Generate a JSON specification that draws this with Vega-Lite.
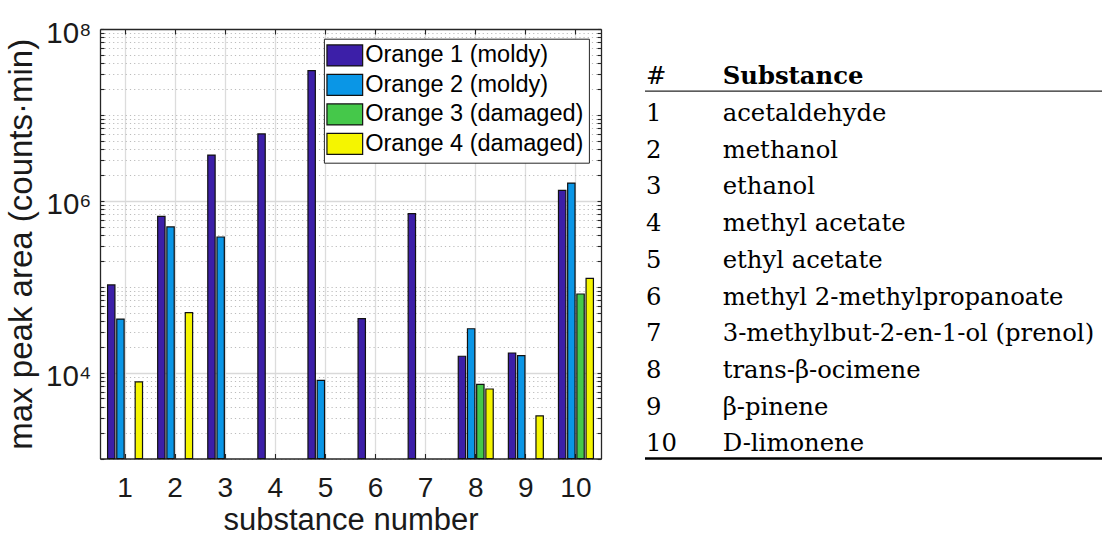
{
  "$schema": "https://vega.github.io/schema/vega-lite/v6.json",
  "background": "white",
  "padding": {"left": 5, "top": 18, "right": 0, "bottom": 0},
  "config": {
    "view": {"stroke": null},
    "font": "Liberation Sans",
    "axis": {
      "labelFont": "Liberation Sans",
      "titleFont": "Liberation Sans",
      "titleFontWeight": "normal",
      "labelColor": "#1a1a1a",
      "titleColor": "#1a1a1a",
      "domainColor": "#262626",
      "domainWidth": 1.3,
      "tickColor": "#262626",
      "tickWidth": 1.1
    }
  },
  "hconcat": [
    {
      "width": 501,
      "height": 429.5,
      "data": {
        "values": [
          {"substance": 1, "orange": "Orange 1 (moldy)", "area": 105000},
          {"substance": 1, "orange": "Orange 2 (moldy)", "area": 42000},
          {"substance": 1, "orange": "Orange 4 (damaged)", "area": 7800},
          {"substance": 2, "orange": "Orange 1 (moldy)", "area": 660000},
          {"substance": 2, "orange": "Orange 2 (moldy)", "area": 496000},
          {"substance": 2, "orange": "Orange 4 (damaged)", "area": 49800},
          {"substance": 3, "orange": "Orange 1 (moldy)", "area": 3410000},
          {"substance": 3, "orange": "Orange 2 (moldy)", "area": 379000},
          {"substance": 4, "orange": "Orange 1 (moldy)", "area": 6000000},
          {"substance": 5, "orange": "Orange 1 (moldy)", "area": 32700000},
          {"substance": 5, "orange": "Orange 2 (moldy)", "area": 8100},
          {"substance": 6, "orange": "Orange 1 (moldy)", "area": 42400},
          {"substance": 7, "orange": "Orange 1 (moldy)", "area": 708000},
          {"substance": 8, "orange": "Orange 1 (moldy)", "area": 15500},
          {"substance": 8, "orange": "Orange 2 (moldy)", "area": 32400},
          {"substance": 8, "orange": "Orange 3 (damaged)", "area": 7290},
          {"substance": 8, "orange": "Orange 4 (damaged)", "area": 6440},
          {"substance": 9, "orange": "Orange 1 (moldy)", "area": 16900},
          {"substance": 9, "orange": "Orange 2 (moldy)", "area": 15800},
          {"substance": 9, "orange": "Orange 4 (damaged)", "area": 3130},
          {"substance": 10, "orange": "Orange 1 (moldy)", "area": 1320000},
          {"substance": 10, "orange": "Orange 2 (moldy)", "area": 1610000},
          {"substance": 10, "orange": "Orange 3 (damaged)", "area": 82200},
          {"substance": 10, "orange": "Orange 4 (damaged)", "area": 125000}
        ]
      },
      "layer": [
        {
          "mark": {"type": "bar", "stroke": "#111111", "strokeWidth": 1.2},
          "encoding": {
            "x": {
              "field": "substance",
              "type": "ordinal",
              "scale": {"domain": [1, 2, 3, 4, 5, 6, 7, 8, 9, 10], "paddingInner": 0.2655, "paddingOuter": 0.13275},
              "axis": {
                "orient": "bottom",
                "title": "substance number",
                "titleFontSize": 31,
                "titlePadding": 3,
                "labelAngle": 0,
                "labelFontSize": 28,
                "labelPadding": 21,
                "tickSize": -5,
                "grid": true,
                "gridColor": "#dcdcdc",
                "gridWidth": 1.3
              }
            },
            "xOffset": {
              "field": "orange",
              "type": "nominal",
              "scale": {
                "domain": ["Orange 1 (moldy)", "Orange 2 (moldy)", "Orange 3 (damaged)", "Orange 4 (damaged)"],
                "paddingInner": 0.2,
                "paddingOuter": 0.1
              }
            },
            "y": {
              "field": "area",
              "type": "quantitative",
              "scale": {"type": "log", "domain": [1000, 100000000], "nice": false},
              "axis": {
                "orient": "left",
                "values": [1000, 2000, 3000, 4000, 5000, 6000, 7000, 8000, 9000,
                           10000, 20000, 30000, 40000, 50000, 60000, 70000, 80000, 90000,
                           100000, 200000, 300000, 400000, 500000, 600000, 700000, 800000, 900000,
                           1000000, 2000000, 3000000, 4000000, 5000000, 6000000, 7000000, 8000000, 9000000,
                           10000000, 20000000, 30000000, 40000000, 50000000, 60000000, 70000000, 80000000, 90000000,
                           100000000],
                "labelExpr": "datum.value == 10000 ? '10⁴' : datum.value == 1000000 ? '10⁶' : datum.value == 100000000 ? '10⁸' : ''",
                "labelOverlap": false,
                "labelFontSize": 29.5,
                "labelPadding": 13,
                "labelOffset": 4,
                "tickSize": -4,
                "grid": true,
                "gridColor": {"condition": {"test": "datum.value == 10000 || datum.value == 1000000", "value": "#d9d9d9"}, "value": "#bcbcbc"},
                "gridDash": {"condition": {"test": "datum.value == 10000 || datum.value == 1000000", "value": []}, "value": [1.2, 3]},
                "gridWidth": {"condition": {"test": "datum.value == 10000 || datum.value == 1000000", "value": 1.3}, "value": 1},
                "title": "max peak area (counts·min)",
                "titleFontSize": 33,
                "titlePadding": 7
              }
            },
            "y2": {"datum": 1000},
            "color": {
              "field": "orange",
              "type": "nominal",
              "scale": {
                "domain": ["Orange 1 (moldy)", "Orange 2 (moldy)", "Orange 3 (damaged)", "Orange 4 (damaged)"],
                "range": ["#3c1fa8", "#0a96e6", "#45c84a", "#f5f500"]
              },
              "legend": {
                "orient": "none",
                "legendX": 223.9,
                "legendY": 9.7,
                "title": null,
                "symbolType": "M-1.7,-1H1.7V1H-1.7Z",
                "symbolSize": 441,
                "symbolStrokeColor": "#111111",
                "symbolStrokeWidth": 1.2,
                "symbolOpacity": 1,
                "labelFont": "Liberation Sans",
                "labelFontSize": 23.5,
                "labelColor": "#000000",
                "labelLimit": 400,
                "strokeColor": "#262626",
                "fillColor": "white",
                "padding": 5,
                "symbolOffset": 4.15,
                "labelOffset": 8.65,
                "rowPadding": 2.5
              }
            }
          }
        },
        {
          "mark": {"type": "bar", "opacity": 0},
          "encoding": {
            "x": {
              "field": "substance",
              "type": "ordinal",
              "axis": {"orient": "top", "labels": false, "title": null, "tickSize": -5, "grid": false}
            },
            "xOffset": {"field": "orange", "type": "nominal"},
            "y": {
              "field": "area",
              "type": "quantitative",
              "axis": {
                "orient": "right",
                "values": [1000, 2000, 3000, 4000, 5000, 6000, 7000, 8000, 9000,
                           10000, 20000, 30000, 40000, 50000, 60000, 70000, 80000, 90000,
                           100000, 200000, 300000, 400000, 500000, 600000, 700000, 800000, 900000,
                           1000000, 2000000, 3000000, 4000000, 5000000, 6000000, 7000000, 8000000, 9000000,
                           10000000, 20000000, 30000000, 40000000, 50000000, 60000000, 70000000, 80000000, 90000000,
                           100000000],
                "labels": false,
                "title": null,
                "tickSize": -4,
                "grid": false
              }
            },
            "y2": {"datum": 1000}
          }
        }
      ],
      "resolve": {"axis": {"x": "independent", "y": "independent"}}
    },
    {
      "width": 457,
      "height": 429.5,
      "data": {
        "values": [
          {"row": "0", "id": "#", "substance": "Substance"},
          {"row": "1", "id": "1", "substance": "acetaldehyde"},
          {"row": "2", "id": "2", "substance": "methanol"},
          {"row": "3", "id": "3", "substance": "ethanol"},
          {"row": "4", "id": "4", "substance": "methyl acetate"},
          {"row": "5", "id": "5", "substance": "ethyl acetate"},
          {"row": "6", "id": "6", "substance": "methyl 2-methylpropanoate"},
          {"row": "7", "id": "7", "substance": "3-methylbut-2-en-1-ol (prenol)"},
          {"row": "8", "id": "8", "substance": "trans-β-ocimene"},
          {"row": "9", "id": "9", "substance": "β-pinene"},
          {"row": "10", "id": "10", "substance": "D-limonene"}
        ]
      },
      "encoding": {
        "y": {
          "field": "row",
          "type": "ordinal",
          "scale": {
            "type": "band",
            "domain": ["0", "1", "2", "3", "4", "5", "6", "7", "8", "9", "10"],
            "paddingInner": 0,
            "paddingOuter": 0.347,
            "align": 1
          },
          "axis": null
        }
      },
      "layer": [
        {
          "transform": [
            {"fold": ["id", "substance"], "as": ["col", "text"]},
            {"filter": "!(datum.row == '0' && datum.col == 'substance')"}
          ],
          "mark": {"type": "text", "align": "left", "baseline": "alphabetic", "dx": 1, "dy": 11.3, "font": "DejaVu Serif", "fontSize": 24.3, "color": "#000000"},
          "encoding": {
            "x": {
              "field": "col",
              "type": "nominal",
              "scale": {"type": "point", "domain": ["id", "substance"], "range": [0, 76.7], "padding": 0},
              "axis": null
            },
            "text": {"field": "text"}
          }
        },
        {
          "transform": [
            {"fold": ["id", "substance"], "as": ["col", "text"]},
            {"filter": "datum.row == '0' && datum.col == 'substance'"}
          ],
          "mark": {"type": "text", "align": "left", "baseline": "alphabetic", "dx": 1, "dy": 11.3, "font": "DejaVu Serif", "fontSize": 24.3, "fontWeight": "bold", "color": "#000000"},
          "encoding": {
            "x": {"field": "col", "type": "nominal", "axis": null},
            "text": {"field": "text"}
          }
        },
        {
          "transform": [{"filter": "datum.row == '1'"}],
          "mark": {"type": "rule", "strokeWidth": 1.3, "color": "#262626"},
          "encoding": {"y": {"field": "row", "type": "ordinal", "bandPosition": 0}}
        },
        {
          "transform": [{"filter": "datum.row == '10'"}],
          "mark": {"type": "rule", "strokeWidth": 2.6, "color": "#000000"},
          "encoding": {"y": {"field": "row", "type": "ordinal", "bandPosition": 1}}
        }
      ]
    }
  ],
  "spacing": 41,
  "resolve": {"scale": {"color": "independent"}, "legend": {"color": "independent"}}
}
